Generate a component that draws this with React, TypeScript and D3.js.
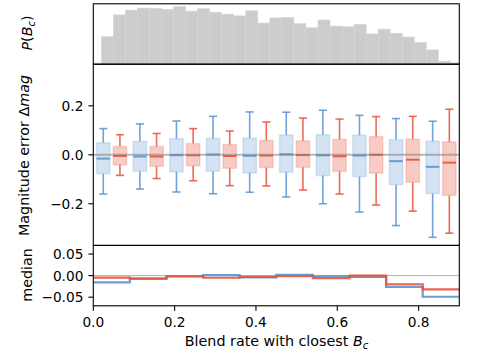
import React from "react";
import * as d3 from "d3";

// ---- data ----
const binEdges = [0, 0.09, 0.18, 0.27, 0.36, 0.45, 0.54, 0.63, 0.72, 0.81, 0.9];

const blueHigh = [0.107, 0.126, 0.138, 0.157, 0.175, 0.174, 0.182, 0.161, 0.148, 0.137];
const blueQ3 = [0.049, 0.055, 0.066, 0.067, 0.068, 0.081, 0.082, 0.080, 0.062, 0.056];
const blueMed = [-0.0155, -0.007, -0.0015, 0.001, -0.004, 0.002, -0.002, -0.003, -0.026, -0.049];
const blueQ1 = [-0.077, -0.067, -0.070, -0.067, -0.074, -0.071, -0.085, -0.089, -0.122, -0.158];
const blueLow = [-0.160, -0.140, -0.152, -0.159, -0.153, -0.172, -0.200, -0.234, -0.289, -0.337];

const redHigh = [0.082, 0.087, 0.107, 0.097, 0.134, 0.150, 0.146, 0.156, 0.157, 0.186];
const redQ3 = [0.034, 0.034, 0.046, 0.042, 0.059, 0.057, 0.063, 0.074, 0.064, 0.053];
const redMed = [-0.0047, -0.007, -0.002, -0.005, -0.003, -0.001, -0.006, 0.0, -0.020, -0.032];
const redQ1 = [-0.041, -0.047, -0.045, -0.055, -0.052, -0.051, -0.067, -0.075, -0.112, -0.166];
const redLow = [-0.084, -0.097, -0.106, -0.126, -0.127, -0.144, -0.160, -0.205, -0.230, -0.320];

const histStart = 0.0197;
const histWidth = 0.0296;
const histValues = [81, 145, 159, 165, 164, 161, 169, 156, 163, 153, 147, 142, 157, 121, 136, 137, 119, 107, 130, 112, 110, 117, 89, 103, 91, 80, 64, 42, 9, 4];

const xTicks = [0, 0.2, 0.4, 0.6, 0.8];
const xTickLabels = ["0.0", "0.2", "0.4", "0.6", "0.8"];
const mainTicks = [0.2, 0, -0.2];
const mainTickLabels = ["0.2", "0.0", "\u22120.2"];
const medTicks = [0.05, 0, -0.05];
const medTickLabels = ["0.05", "0.00", "\u22120.05"];

// ---- style ----
const BLUE = "#5a93cf";
const RED = "#e8533c";
const FONT = "DejaVu Sans, sans-serif";
const FS = 13.7;
const LFS = 14.3;

const L = 93.3, R = 459.3;
const T0 = 3.8, T1 = 64.2, T2 = 245.4, T3 = 305.8;

export default function App() {
  const x = d3.scaleLinear().domain([0, 0.9]).range([L, R]);
  const yH = d3.scaleLinear().domain([0, d3.max(histValues)! * 1.05]).range([T1, T0]);
  const yM = d3.scaleLinear().domain([-0.37, 0.37]).range([T2, T1]);
  const yB = d3.scaleLinear().domain([-0.07, 0.07]).range([T3, T2]);

  const boxW = 0.033;
  const off = 0.0205;
  const capW = 0.02;

  const series = [
    { color: BLUE, dx: -off, hi: blueHigh, q3: blueQ3, med: blueMed, q1: blueQ1, lo: blueLow, fillOp: 0.26 },
    { color: RED, dx: off, hi: redHigh, q3: redQ3, med: redMed, q1: redQ1, lo: redLow, fillOp: 0.3 },
  ];

  const stepLine = (vals: number[]) => {
    const pts: [number, number][] = [];
    vals.forEach((v, i) => {
      pts.push([binEdges[i], v]);
      pts.push([binEdges[i + 1], v]);
    });
    return d3.line<[number, number]>().x((d) => x(d[0])).y((d) => yB(d[1]))(pts) || "";
  };

  const tickLen = 4.9;

  return (
    <svg width={479} height={361} style={{ position: "absolute", left: 0, top: 0, background: "white" }} fontFamily={FONT} fontSize={FS}>
      <rect width={479} height={361} fill="white" />
      <defs>
        <clipPath id="clipTop"><rect x={L} y={T0} width={R - L} height={T1 - T0} /></clipPath>
      </defs>

      {/* histogram */}
      <g clipPath="url(#clipTop)">
        {histValues.map((v, i) => {
          const x0 = x(histStart + i * histWidth);
          const x1 = x(histStart + (i + 1) * histWidth);
          return <rect key={i} x={x0} y={yH(v)} width={x1 - x0} height={yH(0) - yH(v)} fill="#cccccc" stroke="#d6d6d6" strokeWidth={0.6} />;
        })}
      </g>

      {/* main panel */}
      {series.map((s, si) => (
        <g key={si}>
          {binEdges.slice(0, -1).map((e, i) => {
            const c = (e + binEdges[i + 1]) / 2 + s.dx;
            const xl = x(c - boxW / 2), xr = x(c + boxW / 2), xc = x(c);
            const cl = x(c - capW / 2), cr = x(c + capW / 2);
            return (
              <g key={i}>
                <rect x={xl} y={yM(s.q3[i])} width={xr - xl} height={yM(s.q1[i]) - yM(s.q3[i])} fill={s.color} fillOpacity={s.fillOp} stroke={s.color} strokeOpacity={0.2} strokeWidth={1.5} />
                <line x1={xc} x2={xc} y1={yM(s.q3[i])} y2={yM(s.hi[i])} stroke={s.color} strokeWidth={1.6} strokeOpacity={0.85} />
                <line x1={xc} x2={xc} y1={yM(s.q1[i])} y2={yM(s.lo[i])} stroke={s.color} strokeWidth={1.6} strokeOpacity={0.85} />
                <line x1={cl} x2={cr} y1={yM(s.hi[i])} y2={yM(s.hi[i])} stroke={s.color} strokeWidth={1.6} strokeOpacity={0.85} />
                <line x1={cl} x2={cr} y1={yM(s.lo[i])} y2={yM(s.lo[i])} stroke={s.color} strokeWidth={1.6} strokeOpacity={0.85} />
                <line x1={xl} x2={xr} y1={yM(s.med[i])} y2={yM(s.med[i])} stroke={s.color} strokeWidth={2} strokeOpacity={0.9} />
              </g>
            );
          })}
        </g>
      ))}
      <line x1={L} x2={R} y1={yM(0)} y2={yM(0)} stroke="gray" strokeOpacity={0.55} strokeWidth={2} />

      {/* bottom panel */}
      <line x1={L} x2={R} y1={yB(0)} y2={yB(0)} stroke="#b0b0b0" strokeWidth={1} />
      <path d={stepLine(blueMed)} fill="none" stroke={BLUE} strokeWidth={2.2} strokeOpacity={0.9} />
      <path d={stepLine(redMed)} fill="none" stroke={RED} strokeWidth={2.2} strokeOpacity={0.9} />

      {/* frames */}
      {[[T0, T1], [T1, T2], [T2, T3]].map(([a, b], i) => (
        <rect key={i} x={L} y={a} width={R - L} height={b - a} fill="none" stroke="black" strokeWidth={1.1} />
      ))}

      {/* main y ticks */}
      {mainTicks.map((t, i) => (
        <g key={i}>
          <line x1={L - tickLen} x2={L} y1={yM(t)} y2={yM(t)} stroke="black" strokeWidth={1.1} />
          <text x={L - tickLen - 5} y={yM(t)} dy="0.36em" textAnchor="end">{mainTickLabels[i]}</text>
        </g>
      ))}
      {/* bottom y ticks */}
      {medTicks.map((t, i) => (
        <g key={i}>
          <line x1={L - tickLen} x2={L} y1={yB(t)} y2={yB(t)} stroke="black" strokeWidth={1.1} />
          <text x={L - tickLen - 5} y={yB(t)} dy="0.36em" textAnchor="end">{medTickLabels[i]}</text>
        </g>
      ))}
      {/* x ticks */}
      {xTicks.map((t, i) => (
        <g key={i}>
          <line x1={x(t)} x2={x(t)} y1={T3} y2={T3 + tickLen} stroke="black" strokeWidth={1.1} />
          <text x={x(t)} y={327} textAnchor="middle">{xTickLabels[i]}</text>
        </g>
      ))}

      {/* labels */}
      <text transform="translate(31.5,33) rotate(-90)" textAnchor="middle" fontSize={LFS}>
        <tspan fontStyle="italic">P</tspan>(<tspan fontStyle="italic">B</tspan>
        <tspan fontStyle="italic" fontSize={10} dy={3}>c</tspan>
        <tspan dy={-3}>)</tspan>
      </text>
      <text transform="translate(28.5,155.5) rotate(-90)" textAnchor="middle" fontSize={LFS}>
        Magnitude error Δ<tspan fontStyle="italic">mag</tspan>
      </text>
      <text transform="translate(32,275) rotate(-90)" textAnchor="middle" fontSize={LFS}>median</text>
      <text x={276.5} y={345.5} textAnchor="middle" fontSize={LFS}>
        Blend rate with closest <tspan fontStyle="italic">B</tspan>
        <tspan fontStyle="italic" fontSize={10} dy={3}>c</tspan>
      </text>
    </svg>
  );
}
